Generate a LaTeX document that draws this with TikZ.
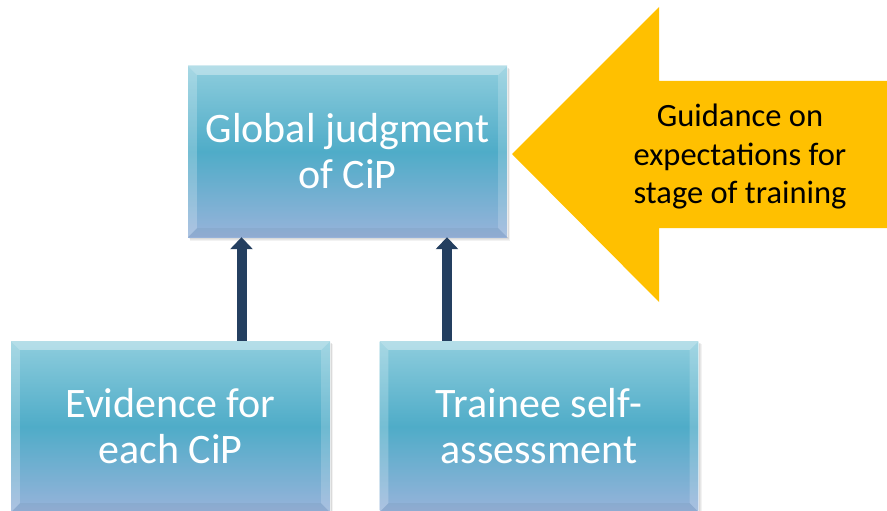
\documentclass[tikz,border=0pt]{standalone}
\usepackage{fontspec}
\setmainfont{Carlito}
\usetikzlibrary{arrows.meta,calc}
\definecolor{boxtop}{HTML}{8ECDDD}
\definecolor{boxmid}{HTML}{4FACC8}
\definecolor{boxbot}{HTML}{97B3DA}
\definecolor{navy}{HTML}{243F60}
\definecolor{gold}{HTML}{FFC000}
\tikzset{
  cipbox/.style={rectangle, minimum width=319pt, minimum height=171pt, inner sep=0pt,
    top color=boxtop, bottom color=boxbot, middle color=boxmid,
    text=white, font=\fontsize{42}{46}\selectfont, align=center},
  uparrow/.style={draw=navy, line width=10pt, -{Triangle[width=22pt,length=12pt]}},
  guidetext/.style={font=\fontsize{32.5}{38.5}\selectfont, text=black, align=center},
}
\newcommand\bevel[1]{%
  \fill[white,opacity=0.35] (#1.north west) -- (#1.north east) -- ($(#1.north east)+(-9,9)$) -- ($(#1.north west)+(9,9)$) -- cycle;
  \fill[white,opacity=0.22] (#1.north west) -- ($(#1.north west)+(9,9)$) -- ($(#1.south west)+(9,-9)$) -- (#1.south west) -- cycle;
  \fill[white,opacity=0.18] (#1.north east) -- ($(#1.north east)+(-9,9)$) -- ($(#1.south east)+(-9,-9)$) -- (#1.south east) -- cycle;
  \fill[black,opacity=0.04] (#1.south west) -- ($(#1.south west)+(9,-9)$) -- ($(#1.south east)+(-9,-9)$) -- (#1.south east) -- cycle;
  \draw[white,opacity=0.6,line width=1.2pt] (#1.south west) -- (#1.north west) -- (#1.north east) -- (#1.south east);
}
\begin{document}
\begin{tikzpicture}[x=1pt,y=-1pt]
  \useasboundingbox (0,0) rectangle (887,511);
  \coordinate (gc) at (347.5,151.5);
  \coordinate (ec) at (170.5,426.5);
  \coordinate (tc) at (539,426.5);
  \begin{scope}
    \clip (0,0) rectangle (887,511);
    \foreach \c in {gc,ec,tc}{
      \foreach \s in {1,2,3,4}{
        \fill[black,opacity=0.05] ($(\c)+(-159.5+\s*0.5,-85.5+\s*0.8)$) rectangle ($(\c)+(159.5+\s*0.8,85.5+\s*1.1)$);
      }
    }
    \node[cipbox] (glob) at (gc) {Global judgment\\of CiP};
    \node[cipbox] (ev) at (ec) {Evidence for\\each CiP};
    \node[cipbox] (tr) at (tc) {Trainee self-\\assessment};
    \bevel{glob}
    \bevel{ev}
    \bevel{tr}
  \end{scope}
  \coordinate (a1) at ($(ev.north)+(71,0)$);
  \coordinate (a2) at ($(tr.north)+(-92,0)$);
  \draw[uparrow] (a1) -- (a1 |- glob.south);
  \draw[uparrow] (a2) -- (a2 |- glob.south);
  \fill[gold] (512,154) -- (659,7) -- (659,81) -- (887,81) -- (887,228) -- (659,228) -- (659,302) -- cycle;
  \node[guidetext] (guide) at (740,157) {Guidance on\\expectations for\\stage of training};
\end{tikzpicture}
\end{document}
